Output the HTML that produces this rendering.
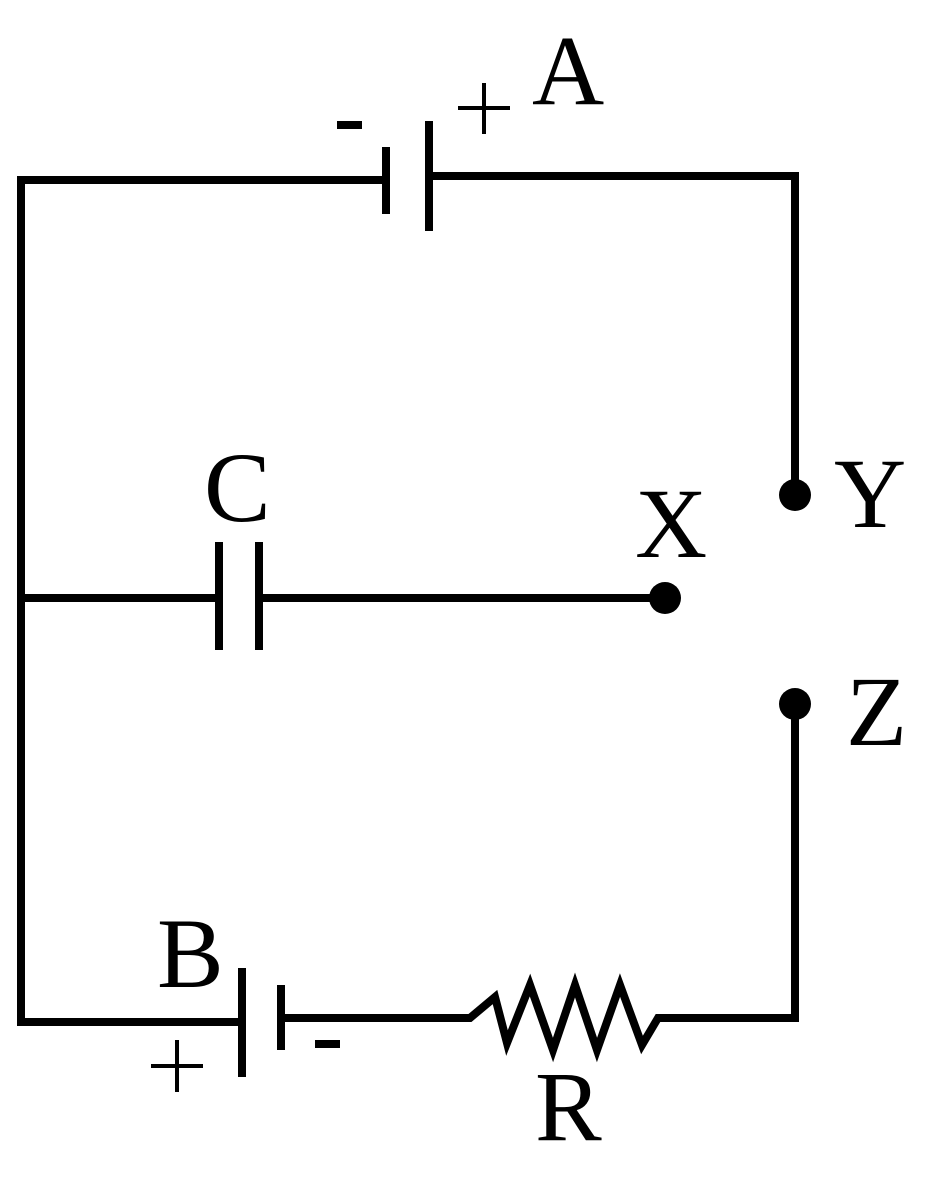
<!DOCTYPE html>
<html><head><style>html,body{margin:0;padding:0;background:#fff;}svg{display:block}text{font-family:"Liberation Serif",serif;}</style></head>
<body>
<svg width="925" height="1185" viewBox="0 0 925 1185" xmlns="http://www.w3.org/2000/svg">
<g stroke="#000" stroke-width="8" fill="none" stroke-linejoin="miter" stroke-linecap="butt">
<polyline points="386,180 21,180 21,1022 240,1022"/>
<line x1="386" y1="147" x2="386" y2="214"/>
<line x1="429" y1="121" x2="429" y2="231"/>
<polyline points="429,176 795,176 795,495"/>
<line x1="21" y1="598" x2="219" y2="598"/>
<line x1="219" y1="542" x2="219" y2="650"/>
<line x1="259" y1="542" x2="259" y2="650"/>
<line x1="259" y1="598" x2="665" y2="598"/>
<line x1="242" y1="968" x2="242" y2="1077"/>
<line x1="281" y1="985" x2="281" y2="1050"/>
<polyline points="281,1018 470,1018 495,997 507,1043 530,985 553,1050 575,985 597,1050 620,985 642,1045 658,1018 795,1018 795,704"/>
<line x1="484" y1="83" x2="484" y2="134" stroke-width="4"/>
<line x1="458" y1="108" x2="510" y2="108" stroke-width="4"/>
<line x1="337" y1="125" x2="362" y2="125" stroke-width="8"/>
<line x1="177" y1="1040" x2="177" y2="1092" stroke-width="4"/>
<line x1="151" y1="1066" x2="203" y2="1066" stroke-width="4"/>
<line x1="315" y1="1044" x2="340" y2="1044" stroke-width="8"/>
</g>
<g fill="#000">
<circle cx="795" cy="495" r="16"/>
<circle cx="665" cy="598" r="16"/>
<circle cx="795" cy="704" r="16"/>
</g>
<g font-family="'Liberation Serif', serif" font-size="100" fill="#000">
<text x="532" y="104">A</text>
<text x="204" y="521">C</text>
<text x="635" y="557">X</text>
<text x="834" y="527">Y</text>
<text x="846" y="745">Z</text>
<text x="157" y="987">B</text>
<text x="535" y="1140">R</text>
</g>
</svg>
</body></html>
